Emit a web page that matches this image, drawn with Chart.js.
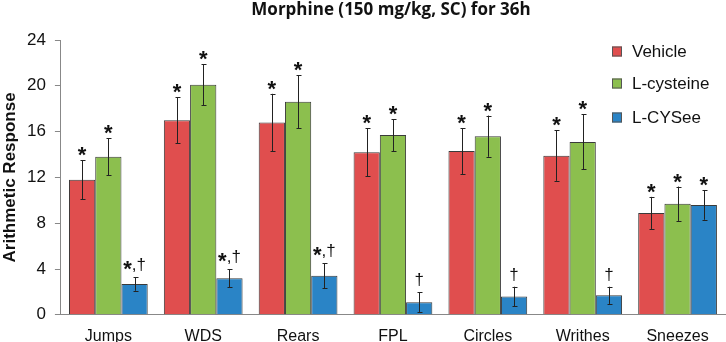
<!DOCTYPE html>
<html>
<head>
<meta charset="utf-8">
<script src="https://cdn.jsdelivr.net/npm/chart.js@4/dist/chart.umd.min.js"></script>
<style>
  html, body { margin: 0; padding: 0; background: #fff; }
  #wrap { width: 726px; height: 342px; }
</style>
</head>
<body>
<div id="wrap"><canvas id="morphineChart" width="726" height="342"></canvas></div>
<script>
const categories = ['Jumps', 'WDS', 'Rears', 'FPL', 'Circles', 'Writhes', 'Sneezes'];
const seriesNames = ['Vehicle', 'L-cysteine', 'L-CYSee'];

const vehicle = [11.8, 17.0, 16.8, 14.2, 14.3, 13.9, 8.9];
const cysteine = [13.8, 20.1, 18.6, 15.7, 15.6, 15.1, 9.7];
const cysee = [2.7, 3.2, 3.4, 1.1, 1.6, 1.7, 9.6];

const vehicleErr = [1.7, 2.0, 2.5, 2.1, 2.0, 2.2, 1.4];
const cysteineErr = [1.6, 1.8, 2.3, 1.4, 1.8, 2.4, 1.5];
const cyseeErr = [0.6, 0.8, 1.1, 0.85, 0.85, 0.75, 1.3];

const vehicleMarks = ['*', '*', '*', '*', '*', '*', '*'];
const cysteineMarks = ['*', '*', '*', '*', '*', '*', '*'];
const cyseeMarks = ['*,†', '*,†', '*,†', '†', '†', '†', '*'];

const yTicks = [0, 4, 8, 12, 16, 20, 24];
const chartTitle = 'Morphine (150 mg/kg, SC) for 36h';
const yTitle = 'Arithmetic Response';

const colors = ['#e04e4e', '#8cbf4e', '#2a84c6'];
const errors = [vehicleErr, cysteineErr, cyseeErr];
const marks = [vehicleMarks, cysteineMarks, cyseeMarks];

const STAR_FONT = 'bold 22px "Liberation Sans"';
const TEXT_FONT = '17px "Liberation Sans"';

// draws a mark so that its lowest glyph sits a few px above yTop
function drawMark(ctx, text, cx, yTop) {
  const parts = text.split(/(\*)/).filter(p => p);
  const info = parts.map(p => {
    ctx.font = p === '*' ? STAR_FONT : TEXT_FONT;
    const m = ctx.measureText(p);
    return { p, w: m.width, asc: m.actualBoundingBoxAscent, desc: m.actualBoundingBoxDescent };
  });
  ctx.font = TEXT_FONT;
  const dag = ctx.measureText('†');
  const totalW = info.reduce((s, o) => s + o.w, 0);
  let x = cx - totalW / 2;
  const hasDagger = parts.some(p => p !== '*');
  // baseline for comma/dagger
  const base = yTop - 6 - dag.actualBoundingBoxDescent;
  info.forEach(o => {
    let y;
    if (o.p === '*') {
      if (hasDagger) {
        const top = base - dag.actualBoundingBoxAscent + 2.5;
        y = top + o.asc;
      } else {
        y = yTop - 4 - o.desc;
      }
    } else {
      y = base;
    }
    ctx.font = o.p === '*' ? STAR_FONT : TEXT_FONT;
    ctx.fillText(o.p, x, y);
    x += o.w;
  });
}

// error bars, significance marks, titles and legend drawn on top
const overlayPlugin = {
  id: 'overlay',
  afterDatasetsDraw(chart) {
    const ctx = chart.ctx;
    const y = chart.scales.y;
    const area = chart.chartArea;
    ctx.save();
    chart.data.datasets.forEach((ds, di) => {
      const meta = chart.getDatasetMeta(di);
      meta.data.forEach((bar, i) => {
        const v = ds.data[i];
        const e = errors[di][i];
        const yTop = y.getPixelForValue(v + e);
        const yBot = y.getPixelForValue(v - e);
        const x = Math.round(bar.x) + 0.5;
        ctx.strokeStyle = '#222';
        ctx.lineWidth = 1;
        ctx.beginPath();
        ctx.moveTo(x, yTop); ctx.lineTo(x, yBot);
        ctx.moveTo(x - 2, Math.round(yTop) + 0.5); ctx.lineTo(x + 3, Math.round(yTop) + 0.5);
        ctx.moveTo(x - 2, Math.round(yBot) + 0.5); ctx.lineTo(x + 3, Math.round(yBot) + 0.5);
        ctx.stroke();

        ctx.fillStyle = '#111';
        ctx.textAlign = 'left';
        ctx.textBaseline = 'alphabetic';
        drawMark(ctx, marks[di][i], bar.x, yTop);
      });
    });

    // title
    ctx.font = 'bold 17px "Open Sans"';
    ctx.fillStyle = '#111';
    ctx.textAlign = 'center';
    ctx.textBaseline = 'middle';
    ctx.fillText(chartTitle, 391, 10);

    // y axis title
    ctx.save();
    ctx.translate(15, (area.top + area.bottom) / 2);
    ctx.rotate(-Math.PI / 2);
    ctx.font = 'bold 17px "Liberation Sans"';
    ctx.textAlign = 'center';
    ctx.textBaseline = 'alphabetic';
    ctx.fillText(yTitle, 0, 0);
    ctx.restore();

    // legend
    const rows = [51.5, 83.5, 117.5];
    chart.data.datasets.forEach((ds, di) => {
      ctx.fillStyle = ds.backgroundColor;
      ctx.fillRect(612, rows[di] - 5, 10, 10);
      ctx.strokeStyle = '#555';
      ctx.lineWidth = 1;
      ctx.strokeRect(612.5, rows[di] - 4.5, 9, 9);
      ctx.fillStyle = '#111';
      ctx.font = '17px "Liberation Sans"';
      ctx.textAlign = 'left';
      ctx.textBaseline = 'middle';
      ctx.fillText(ds.label, 632, rows[di] + 1);
    });
    ctx.restore();
  }
};

const ctx = document.getElementById('morphineChart');
new Chart(ctx, {
  type: 'bar',
  data: {
    labels: categories,
    datasets: [vehicle, cysteine, cysee].map((vals, di) => ({
      label: seriesNames[di],
      data: vals,
      backgroundColor: colors[di],
      borderColor: '#3a3a3a',
      borderWidth: 1,
      categoryPercentage: 0.83,
      barPercentage: 1.0
    }))
  },
  options: {
    responsive: false,
    animation: false,
    layout: { padding: { top: 40, right: 1, left: 18, bottom: -16 } },
    plugins: {
      legend: { display: false },
      title: { display: false },
      tooltip: { enabled: false }
    },
    scales: {
      x: {
        grid: { drawOnChartArea: false, drawTicks: false },
        border: { color: '#888', width: 1 },
        ticks: { color: '#111', font: { family: 'Liberation Sans', size: 16 }, padding: 12 }
      },
      y: {
        min: 0,
        max: 24,
        afterBuildTicks: (axis) => { axis.ticks = yTicks.map(v => ({ value: v })); },
        grid: { drawOnChartArea: false, drawTicks: true, tickLength: 6, color: '#888' },
        border: { color: '#888', width: 1 },
        ticks: { color: '#111', font: { family: 'Liberation Sans', size: 17 }, padding: 9 }
      }
    }
  },
  plugins: [overlayPlugin]
});
</script>
</body>
</html>
